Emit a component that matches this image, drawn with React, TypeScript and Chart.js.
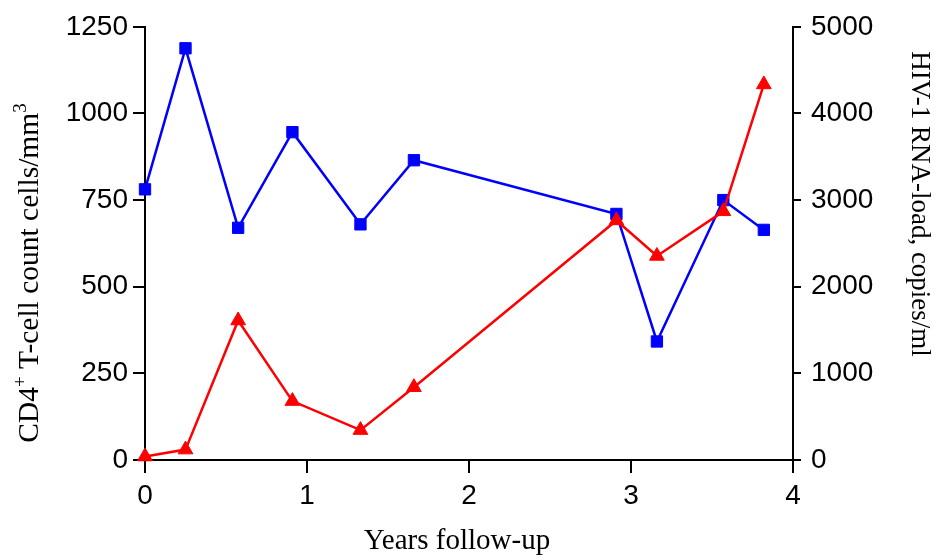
import { useEffect, useRef } from 'react';
import { Chart, registerables } from 'chart.js';

Chart.register(...registerables);

// Follow-up time points (years)
const years = [0, 0.25, 0.575, 0.91, 1.33, 1.66, 2.91, 3.16, 3.57, 3.82];
// CD4+ T-cell counts (cells/mm3), left axis
const cd4Counts = [781, 1188, 670, 946, 680, 865, 710, 342, 750, 664];
// HIV-1 RNA load (copies/ml), right axis
const rnaLoad = [40, 120, 1610, 680, 345, 840, 2765, 2355, 2870, 4335];

const xTicks = [0, 1, 2, 3, 4];
const cd4Ticks = [0, 250, 500, 750, 1000, 1250];
const rnaTicks = [0, 1000, 2000, 3000, 4000, 5000];

const xTitle = 'Years follow-up';
const rnaTitle = 'HIV-1 RNA-load, copies/ml';
// [text, superscript?]
const cd4TitleParts: [string, boolean][] = [
  ['CD4', false],
  ['+', true],
  [' T-cell count cells/mm', false],
  ['3', true],
];

const TICK_FONT = { family: '"Liberation Sans", Arial, sans-serif', size: 28 };
const SERIF = '"Liberation Serif", "Times New Roman", serif';
const plainLabel = (v: any) => String(v);

const axisTitles = {
  id: 'axisTitles',
  afterDraw(chart: any) {
    const ctx: CanvasRenderingContext2D = chart.ctx;
    ctx.save();
    ctx.fillStyle = '#000';
    ctx.textBaseline = 'alphabetic';

    // bottom title
    ctx.font = `29px ${SERIF}`;
    ctx.textAlign = 'center';
    ctx.fillText(xTitle, 457, 549);

    // left title with superscripts, reading bottom to top
    const mainFont = `29.5px ${SERIF}`;
    const supFont = `19px ${SERIF}`;
    let total = 0;
    for (const [t, sup] of cd4TitleParts) {
      ctx.font = sup ? supFont : mainFont;
      total += ctx.measureText(t).width;
    }
    ctx.save();
    ctx.translate(38, 273);
    ctx.rotate(-Math.PI / 2);
    ctx.textAlign = 'left';
    let pos = -total / 2;
    for (const [t, sup] of cd4TitleParts) {
      ctx.font = sup ? supFont : mainFont;
      ctx.fillText(t, pos, sup ? -12 : 0);
      pos += ctx.measureText(t).width;
    }
    ctx.restore();

    // right title, reading top to bottom
    ctx.save();
    ctx.translate(912, 204);
    ctx.rotate(Math.PI / 2);
    ctx.font = `27px ${SERIF}`;
    ctx.textAlign = 'center';
    ctx.fillText(rnaTitle, 0, 0);
    ctx.restore();

    ctx.restore();
  },
};

export default function App() {
  const canvasRef = useRef<HTMLCanvasElement | null>(null);

  useEffect(() => {
    if (!canvasRef.current) return;
    const blue = '#0000ff';
    const red = '#ff0000';
    const chart = new Chart(canvasRef.current, {
      type: 'line',
      data: {
        datasets: [
          {
            label: 'CD4',
            data: years.map((x, i) => ({ x, y: cd4Counts[i] })),
            yAxisID: 'y',
            borderColor: blue,
            backgroundColor: blue,
            borderWidth: 2.5,
            pointStyle: 'rect',
            pointRadius: 8,
            pointBorderWidth: 1,
            pointBackgroundColor: blue,
            pointBorderColor: blue,
            tension: 0,
            clip: false,
            order: 1,
          },
          {
            label: 'RNA',
            data: years.map((x, i) => ({ x, y: rnaLoad[i] })),
            yAxisID: 'y1',
            borderColor: red,
            backgroundColor: red,
            borderWidth: 2.5,
            pointStyle: 'triangle',
            pointRadius: 8.5,
            pointBorderWidth: 1,
            pointBackgroundColor: red,
            pointBorderColor: red,
            tension: 0,
            clip: false,
            order: 0,
          },
        ],
      },
      options: {
        animation: false,
        responsive: false,
        maintainAspectRatio: false,
        events: [],
        layout: { padding: { top: 24, left: 0, right: 0, bottom: 0 } },
        plugins: {
          legend: { display: false },
          tooltip: { enabled: false },
        },
        scales: {
          x: {
            type: 'linear',
            min: 0,
            max: 4,
            afterBuildTicks: (s: any) => {
              s.ticks = xTicks.map((v) => ({ value: v }));
            },
            afterFit: (s: any) => {
              s.height = 98;
            },
            ticks: { font: TICK_FONT, color: '#000', padding: 6, maxRotation: 0, callback: plainLabel },
            grid: {
              drawOnChartArea: false,
              drawTicks: true,
              tickLength: 13,
              color: '#000',
              lineWidth: 2,
            },
            border: { display: true, color: '#000', width: 2 },
          },
          y: {
            type: 'linear',
            position: 'left',
            min: 0,
            max: 1250,
            afterBuildTicks: (s: any) => {
              s.ticks = cd4Ticks.map((v) => ({ value: v }));
            },
            afterFit: (s: any) => {
              s.width = 145;
            },
            ticks: { font: TICK_FONT, color: '#000', padding: 5, callback: plainLabel },
            grid: {
              drawOnChartArea: false,
              drawTicks: true,
              tickLength: 12,
              color: '#000',
              lineWidth: 2,
            },
            border: { display: true, color: '#000', width: 2 },
          },
          y1: {
            type: 'linear',
            position: 'right',
            min: 0,
            max: 5000,
            afterBuildTicks: (s: any) => {
              s.ticks = rnaTicks.map((v) => ({ value: v }));
            },
            afterFit: (s: any) => {
              s.width = 154;
            },
            ticks: { font: TICK_FONT, color: '#000', padding: 10, callback: plainLabel },
            grid: {
              drawOnChartArea: false,
              drawTicks: true,
              tickLength: 8,
              color: '#000',
              lineWidth: 2,
            },
            border: { display: true, color: '#000', width: 2 },
          },
        },
      },
      plugins: [axisTitles],
    } as any);
    return () => chart.destroy();
  }, []);

  return (
    <div style={{ position: 'absolute', left: 0, top: 0, width: 947, height: 558, background: '#fff' }}>
      <canvas ref={canvasRef} width={947} height={558} style={{ display: 'block' }} />
    </div>
  );
}
